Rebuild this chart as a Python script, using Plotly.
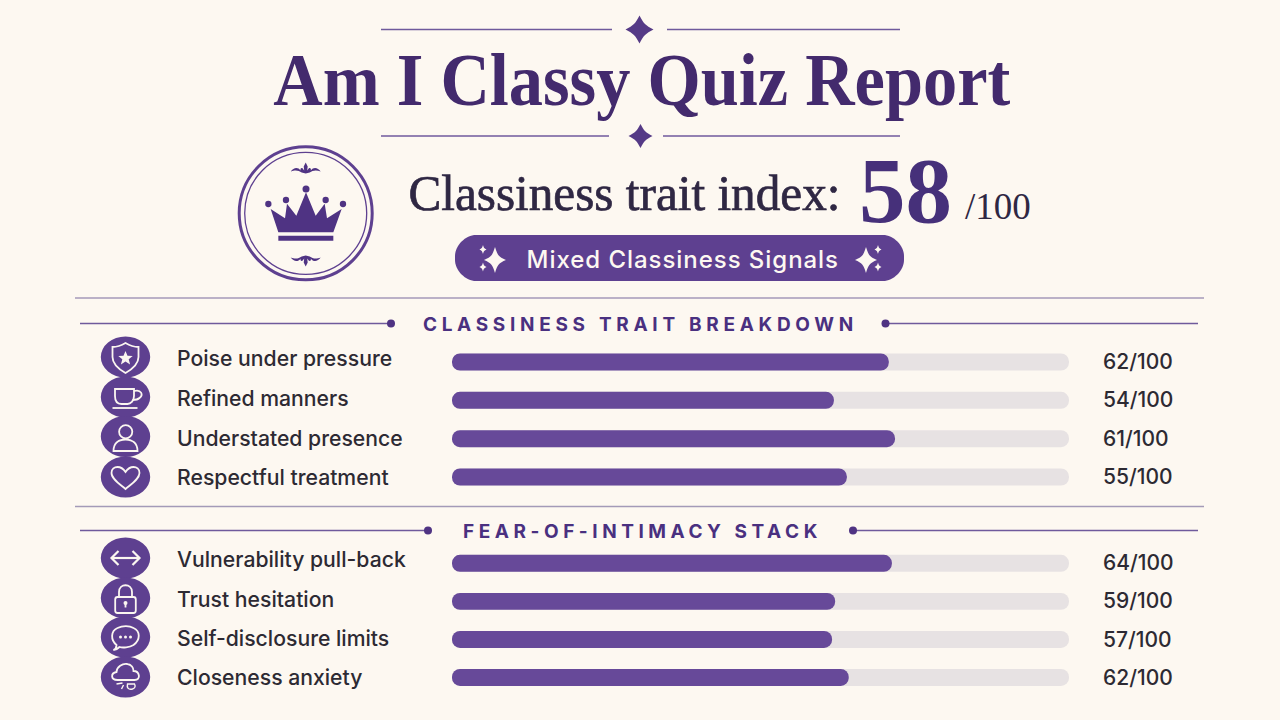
import re
import plotly.graph_objects as go

# ---- data ----
TITLE = "Am I Classy Quiz Report"
INDEX_LABEL = "Classiness trait index:"
INDEX_VALUE = "58"
INDEX_SCALE = "/100"
BADGE = "Mixed Classiness Signals"

section_a_title = "CLASSINESS TRAIT BREAKDOWN"
section_a_traits = ["Poise under pressure", "Refined manners", "Understated presence", "Respectful treatment"]
section_a_scores = ["62/100", "54/100", "61/100", "55/100"]
section_a_fill = [70.8, 61.9, 71.8, 64.0]   # drawn bar length, % of track

section_b_title = "FEAR-OF-INTIMACY STACK"
section_b_traits = ["Vulnerability pull-back", "Trust hesitation", "Self-disclosure limits", "Closeness anxiety"]
section_b_scores = ["64/100", "59/100", "57/100", "62/100"]
section_b_fill = [71.3, 62.1, 61.6, 64.3]
track_full = [100, 100, 100, 100]
bar_start = [0, 0, 0, 0]

# ---- styling ----
W, H = 1280, 720
BG = "#fdf8f1"
PURPLE = "#5e4090"
DEEP = "#432a6d"
BAR = "#674999"
TRACK = "#e7e2e3"
INK = "#2d2a33"
RULE = "#a49ab8"
LINE = "#6f5a9c"
SANS = "Inter"
SERIF = "Liberation Serif"

def px(x): return x / W
def py(y): return 1 - y / H

def pth(d, ox=0, oy=0):
    """pixel path string -> paper path string"""
    nums = re.compile(r"(-?\d+\.?\d*)[ ,]+(-?\d+\.?\d*)")
    return nums.sub(lambda m: f"{px(float(m[1]) + ox):.5f},{py(float(m[2]) + oy):.5f}", d)

shapes = []
def path(d, ox=0, oy=0, fill=None, line=None, lw=0):
    shapes.append(dict(type="path", xref="paper", yref="paper", path=pth(d, ox, oy),
                       fillcolor=fill or "rgba(0,0,0,0)",
                       line=dict(color=line or "rgba(0,0,0,0)", width=lw)))
def ellipse(cx, cy, rx, ry, fill=None, line=None, lw=0):
    shapes.append(dict(type="circle", xref="paper", yref="paper",
                       x0=px(cx - rx), x1=px(cx + rx), y0=py(cy + ry), y1=py(cy - ry),
                       fillcolor=fill or "rgba(0,0,0,0)",
                       line=dict(color=line or "rgba(0,0,0,0)", width=lw)))
def hline(x0, x1, y, color, lw):
    shapes.append(dict(type="line", xref="paper", yref="paper", x0=px(x0), x1=px(x1),
                       y0=py(y), y1=py(y), line=dict(color=color, width=lw)))
def sparkle(cx, cy, rx, ry, fill, k=0.22):
    d = (f"M 0,{-ry} C {rx*k},{-ry*k*1.4} {rx*k*1.4},{-ry*k} {rx},0 "
         f"C {rx*k*1.4},{ry*k} {rx*k},{ry*k*1.4} 0,{ry} "
         f"C {-rx*k},{ry*k*1.4} {-rx*k*1.4},{ry*k} {-rx},0 "
         f"C {-rx*k*1.4},{-ry*k} {-rx*k},{-ry*k*1.4} 0,{-ry} Z")
    path(d, cx, cy, fill=fill)

# title ornaments
hline(381, 612, 29.5, LINE, 1.5); hline(667, 900, 29.5, LINE, 1.5)
sparkle(639.5, 29.5, 14, 14, "#553a86", 0.3)
hline(381, 609, 136, LINE, 1.5); hline(663, 900, 136, LINE, 1.5)
sparkle(640.5, 136, 12, 12, "#553a86", 0.3)

# crown medallion
CROWN = "#4f3383"
ellipse(305.7, 213.3, 66.5, 66.5, line=PURPLE, lw=3)
ellipse(305.7, 213.3, 61, 61, line=PURPLE, lw=1.3)
def Z(pts):
    return " ".join(("M " if i == 0 else "L ") + f"{225 + x/3:.2f},{135 + y/3:.2f}" for i, (x, y) in enumerate(pts)) + " Z"
path(Z([(160, 292), (137, 222), (180, 250), (186, 206), (214, 242), (243, 172), (272, 242),
        (299, 206), (306, 250), (350, 222), (325, 292)]), fill=CROWN)
path(Z([(160, 302), (325, 302), (325, 317), (160, 317)]), fill=CROWN)
for (bx, by, br) in [(130, 207, 9.5), (183, 195, 9.5), (243, 162, 10.5), (302, 195, 9.5), (354, 207, 9.5)]:
    ellipse(225 + bx/3, 135 + by/3, br/3, br/3, fill=CROWN)
# flourishes
def flourish(cy, s):
    petal = (f"M -15,{2*s} C -12,{-2*s} -8,{-3*s} -5,{1*s} C -6,{-1*s} -4,{-2*s} -3,{-1*s} L -1.5,{1*s} "
             f"L -2,{-3*s} L 0,{-7*s} L 2,{-3*s} L 1.5,{1*s} L 3,{-1*s} C 4,{-2*s} 6,{-1*s} 5,{1*s} "
             f"C 8,{-3*s} 12,{-2*s} 15,{2*s} C 10,{0*s} 7,{1*s} 4,{3*s} L 0,{4*s} L -4,{3*s} C -7,{1*s} -10,{0*s} -15,{2*s} Z")
    path(petal, 305.7, cy, fill=CROWN)
flourish(169.5, 1)
flourish(259.5, -1)

# badge
bx0, bx1, by0, by1, r = 455, 904, 235, 281, 21
path(f"M {bx0+r},{by0} L {bx1-r},{by0} C {bx1-r/2},{by0} {bx1},{by0+r/2} {bx1},{by0+r} L {bx1},{by1-r} "
     f"C {bx1},{by1-r/2} {bx1-r/2},{by1} {bx1-r},{by1} L {bx0+r},{by1} C {bx0+r/2},{by1} {bx0},{by1-r/2} {bx0},{by1-r} "
     f"L {bx0},{by0+r} C {bx0},{by0+r/2} {bx0+r/2},{by0} {bx0+r},{by0} Z", fill=PURPLE)
for cx, sx in [(495, 483), (866, 878)]:
    sparkle(cx, 260, 11, 13, "#fdf8f1", 0.24)
    sparkle(sx, 249.5, 3.5, 4.5, "#fdf8f1", 0.25)
    sparkle(sx, 267, 3.5, 4.5, "#fdf8f1", 0.25)

# section rules
hline(75, 1204, 298, RULE, 1.5); hline(75, 1204, 506.5, RULE, 1.5)
hline(80, 388, 323.5, LINE, 1.4); hline(885, 1198, 323.5, LINE, 1.4)
ellipse(391, 323.5, 4, 4, fill=CROWN); ellipse(885.5, 323.5, 4, 4, fill=CROWN)
hline(80, 426, 530.5, LINE, 1.4); hline(853, 1198, 530.5, LINE, 1.4)
ellipse(428, 530.5, 4, 4, fill=CROWN); ellipse(853, 530.5, 4, 4, fill=CROWN)

# icon discs
WH = "#fbf6f0"
disc_x = 125.5
for cy in [357, 397, 436.5, 477, 558, 598, 637, 677]:
    ellipse(disc_x, cy, 24.7, 20.5, fill=PURPLE)
def ic(d, cy, lw=1.8, fill=None):
    path(d, disc_x, cy, fill=fill, line=WH if not fill else None, lw=lw if not fill else 0)
# shield + star
ic("M 0,-14 C 5,-11 9,-10 13,-10 L 13,0 C 13,7 7,12 0,16 C -7,12 -13,7 -13,0 L -13,-10 C -9,-10 -5,-11 0,-14 Z", 357)
ic("M 0,-7 L 2,-2.2 L 7.2,-2 L 3.2,1.2 L 4.6,6.4 L 0,3.4 L -4.6,6.4 L -3.2,1.2 L -7.2,-2 L -2,-2.2 Z", 358, fill=WH)
# cup
ic("M -10.5,-8 L 8.5,-8 L 8.5,-1 C 8.5,4 5,7 2,7 L -4,7 C -8,7 -10.5,4 -10.5,-1 Z", 397)
ic("M 8.5,-6 C 16,-8 18,-2 14,1 C 12,3 9,3 7,3", 397)
ic("M -13,11 L 12,11", 397)
# person
ellipse(125.7, 431.7, 6.6, 6.6, line=WH, lw=1.8)
ic("M -12,14.5 C -12,6 -6,3 0,3 C 6,3 12,6 12,14.5 Z", 436.5)
# heart
ic("M 0,12 C -6,7 -14,2 -14,-4 C -14,-8 -11,-10 -8,-10 C -4,-10 -2,-8 0,-5 C 2,-8 4,-10 8,-10 C 11,-10 14,-8 14,-4 C 14,2 6,7 0,12 Z", 477)
# arrows
ic("M -13,0 L 13,0", 558, lw=2.2)
ic("M -7,-7 L -14,0 L -7,7", 558, lw=2.2)
ic("M 7,-7 L 14,0 L 7,7", 558, lw=2.2)
# lock
ic("M -8,-1 L 8,-1 C 9.5,-1 10.3,0 10.3,1.5 L 10.3,12.5 C 10.3,14 9.5,15 8,15 L -8,15 C -9.5,15 -10.3,14 -10.3,12.5 L -10.3,1.5 C -10.3,0 -9.5,-1 -8,-1 Z", 598)
ic("M -6.5,-1 L -6.5,-6 C -6.5,-15 6.5,-15 6.5,-6 L 6.5,-1", 598)
ellipse(125.5, 603, 2, 2, fill=WH)
ic("M -0.9,5 L 0.9,5 L 0.9,9.5 L -0.9,9.5 Z", 598, fill=WH)
# speech bubble
ic("M -9,8 C -15,3 -15,-6 -8,-9 C -3,-11.5 4,-11.5 8,-9 C 15,-6 15,3 8,8 C 4,10.5 -3,11 -6,10 C -8,12 -10,13 -12,13 C -10,12 -9,10 -9,8 Z", 637)
for dx in [-5, 0, 5]:
    ellipse(disc_x + dx, 637, 1.5, 1.5, fill=WH)
# cloud
ic("M -8,3 C -15,3 -15,-4 -9,-5 C -9,-10 -3,-14 2,-13 C 6,-12.5 8,-9 8,-6 C 14,-6 16,3 9,3 Z", 677)
ic("M -9,7 L -3,6", 677, lw=1.4); ic("M -4,12 L -2,8", 677, lw=1.4)
ic("M 2,7 C 1,11 3,13 7,12 C 10,11 10,9 9,7 Z", 677, lw=1.4)

# ---- annotations ----
ann = []
def txt(x, y, s, size, color, family=SANS, weight=400, xa="left"):
    ann.append(dict(xref="paper", yref="paper", x=px(x), y=py(y), text=s, showarrow=False,
                    xanchor=xa, yanchor="middle", align="center",
                    font=dict(family=family, size=size, color=color, weight=weight)))

txt(641.5, 80, TITLE, 74, DEEP, SERIF, 700, "center")
txt(403, 193, INDEX_LABEL, 50, "#2f2743", SERIF, 400)
txt(857, 191, INDEX_VALUE, 93, "#46307a", SERIF, 700)
txt(963, 206, INDEX_SCALE, 37, "#2f2743", SERIF, 400)
txt(682.5, 259, BADGE, 24, "#fdf8f1", SANS, 500, "center")
txt(640, 324.5, section_a_title, 19, "#4a3080", SANS, 700, "center")
txt(642, 531, section_b_title, 19, "#4a3080", SANS, 700, "center")

label_nudge = [3, 1, 0, -1]
score_nudge = [1, 1, 0, 0]
def row_labels(traits, scores, yref):
    for t, s, n, m in zip(traits, scores, label_nudge, score_nudge):
        ann.append(dict(xref="paper", yref=yref, x=px(175), y=t, text=t, showarrow=False, xanchor="left",
                        yanchor="middle", yshift=n + 1, font=dict(family=SANS, size=21.2, color=INK, weight=500)))
        ann.append(dict(xref="paper", yref=yref, x=px(1101), y=t, text=s, showarrow=False, xanchor="left",
                        yanchor="middle", yshift=m, font=dict(family=SANS, size=21, color=INK, weight=500)))
row_labels(section_a_traits, section_a_scores, "y")
row_labels(section_b_traits, section_b_scores, "y4")

# ---- bars ----
# Each layer sits on its own overlaying axes so that Plotly rounds both layers;
# giving a bar an explicit base rounds both of its ends.
def yax(top, bottom, cats, **kw):
    return dict(visible=False, type="category", categoryorder="array", categoryarray=cats,
                range=[3.5, -0.5], domain=[py(bottom), py(top)], fixedrange=True, **kw)

fig = go.Figure()
ax_cfg = {}
xdom = [px(452), px(1069)]
sections = [(section_a_traits, section_a_fill, 342.85, 496.15, "", "2"),
            (section_b_traits, section_b_fill, 544.3, 696.5, "4", "5")]
for traits, fill, top, bottom, s1, s2 in sections:
    for sx, vals, color, base_ax in [(s1, track_full, TRACK, None), (s2, fill, BAR, s1)]:
        fig.add_trace(go.Bar(y=traits, x=vals, base=bar_start, orientation="h", xaxis=f"x{sx}", yaxis=f"y{sx}",
                             width=0.445, marker=dict(color=color, line=dict(width=0), cornerradius=8.5),
                             hoverinfo="skip", showlegend=False))
        xkw = {} if base_ax is None else {"overlaying": f"x{base_ax}"}
        ykw = {} if base_ax is None else {"overlaying": f"y{base_ax}"}
        ax_cfg[f"xaxis{sx}"] = dict(visible=False, range=[0, 100], domain=xdom, fixedrange=True,
                                    anchor=f"y{sx}", **xkw)
        ax_cfg[f"yaxis{sx}"] = yax(top, bottom, traits, anchor=f"x{sx}", **ykw)

fig.update_layout(
    width=W, height=H, margin=dict(l=0, r=0, t=0, b=0),
    paper_bgcolor=BG, plot_bgcolor="rgba(0,0,0,0)",
    barmode="overlay", showlegend=False,
    shapes=shapes, annotations=ann, **ax_cfg,
)

POST = """
document.documentElement.style.background='%s';
document.body.style.margin='0';
document.body.style.overflow='hidden';
var sp={'%s':'4.7px','%s':'4.55px','%s':'0.95px'};
var tl={'%s':737,'%s':432};
var st={'%s':'0.7px'};
document.querySelectorAll('text.annotation-text').forEach(function(t){
  var s=t.textContent;
  if(sp[s]) t.style.letterSpacing=sp[s];
  if(tl[s]){t.setAttribute('textLength',tl[s]);t.setAttribute('lengthAdjust','spacingAndGlyphs');}
  if(st[s]){t.style.stroke='#2f2743';t.style.strokeWidth=st[s];}
});
""" % (BG, section_a_title, section_b_title, BADGE, TITLE, INDEX_LABEL, INDEX_LABEL)

fig.write_html("out.html", include_plotlyjs=True, config={"displayModeBar": False}, post_script=POST)
